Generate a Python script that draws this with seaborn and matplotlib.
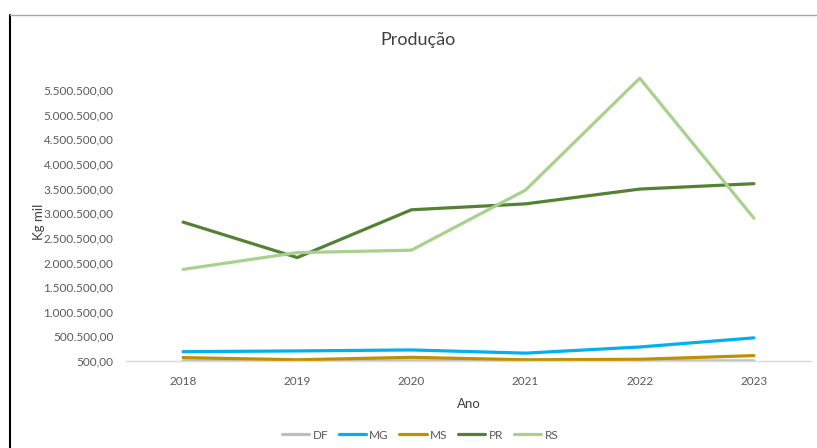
import numpy as np
import pandas as pd
import matplotlib
matplotlib.use("Agg")
import matplotlib.pyplot as plt
import seaborn as sns
from matplotlib.lines import Line2D
from matplotlib.ticker import FuncFormatter

# data (Kg mil)
anos = ["2018", "2019", "2020", "2021", "2022", "2023"]
estados = ["DF", "MG", "MS", "PR", "RS"]
df_vals = [3000, 2500, 3000, 2500, 3000, 3500]
mg_vals = [190000, 205000, 225000, 160000, 285000, 470000]
ms_vals = [70000, 25000, 75000, 25000, 35000, 110000]
pr_vals = [2820000, 2100000, 3070000, 3190000, 3490000, 3600000]
rs_vals = [1860000, 2200000, 2250000, 3470000, 5740000, 2900000]
cores = ["#BFBFBF", "#00B0F0", "#BF9000", "#548235", "#A9D18E"]

# long form table for seaborn
series = {"DF": df_vals, "MG": mg_vals, "MS": ms_vals, "PR": pr_vals, "RS": rs_vals}
rows = []
for uf in estados:
    for i, v in enumerate(series[uf]):
        rows.append({"pos": i, "Ano": anos[i], "UF": uf, "valor": v})
data = pd.DataFrame(rows)

sns.set_style("white")
plt.rcParams["font.family"] = ["Lato", "DejaVu Sans"]

fig = plt.figure(figsize=(8.17, 4.48), dpi=100)
# plot area: 500 at y=361 px, 6.000.500 at y~66 px
ax = fig.add_axes([126 / 817, 1 - 361 / 448, 685 / 817, 295.6 / 448])

sns.lineplot(data=data, x="pos", y="valor", hue="UF", hue_order=estados,
             palette=cores, linewidth=2.3, ax=ax, legend=True, sort=False)

ax.set_xlim(-0.5, 5.5)
ax.set_ylim(500, 6000500)
ax.set_xticks(range(len(anos)))
ax.set_xticklabels(anos)
ax.set_yticks(np.arange(500, 5500501, 500000))


def fmt_br(v, pos):
    s = f"{v:,.2f}"
    return s.replace(",", "X").replace(".", ",").replace("X", ".")


ax.yaxis.set_major_formatter(FuncFormatter(fmt_br))
ax.tick_params(axis="y", length=0, labelsize=8.5, colors="#595959", pad=9)
ax.tick_params(axis="x", length=0, labelsize=8.5, colors="#595959", pad=11)

for s in ["top", "right", "left"]:
    ax.spines[s].set_visible(False)
ax.spines["bottom"].set_color("#D9D9D9")
ax.spines["bottom"].set_linewidth(1)

ax.set_xlabel("Ano", fontsize=9.5, color="#404040", labelpad=8)
ax.set_ylabel("Kg mil", fontsize=9.5, color="#404040", labelpad=0)
ax.yaxis.set_label_coords(-81 / 685, 139 / 295.6)
fig.text(418 / 817, 1 - 40 / 448, "Produção", ha="center", va="center",
         fontsize=13, color="#404040")

ax.get_legend().remove()
handles = [Line2D([0], [0], color=c, lw=2.3) for c in cores]
fig.legend(handles, estados, loc="center", bbox_to_anchor=(420 / 817, 1 - 435 / 448),
           ncol=5, frameon=False, fontsize=8.5, handlelength=2.3, handletextpad=0.3,
           columnspacing=0.9, labelcolor="#595959")

# screenshot frame lines
fig.add_artist(Line2D([10 / 817, 10 / 817], [0, 1 - 15 / 448], color="black", lw=1.5))
fig.add_artist(Line2D([10 / 817, 1], [1 - 15 / 448, 1 - 15 / 448], color="#A6A6A6", lw=1))

fig.savefig("out.png", dpi=100)
